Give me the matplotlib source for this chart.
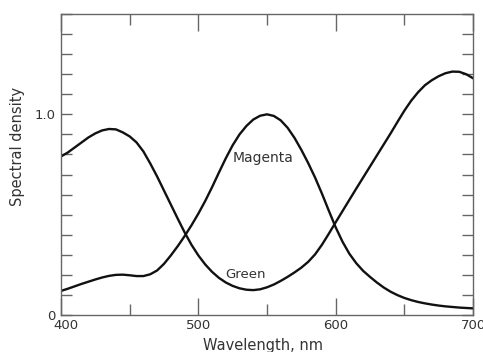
import numpy as np
import matplotlib
matplotlib.use("Agg")
import matplotlib.pyplot as plt
import matplotlib.transforms as mtransforms
from matplotlib.ticker import MultipleLocator, FixedLocator

# Spectral density of the two dyes, sampled every 5 nm
wavelength = np.arange(400, 705, 5)

green = [0.79, 0.81, 0.835, 0.86, 0.885, 0.905, 0.92, 0.927, 0.925, 0.91,
         0.89, 0.86, 0.815, 0.755, 0.69, 0.62, 0.55, 0.48, 0.412, 0.35,
         0.297, 0.252, 0.215, 0.185, 0.162, 0.145, 0.133, 0.126, 0.124, 0.128,
         0.138, 0.152, 0.17, 0.19, 0.212, 0.236, 0.265, 0.302, 0.35, 0.405,
         0.462, 0.518, 0.574, 0.63, 0.685, 0.74, 0.795, 0.85, 0.905, 0.962,
         1.018, 1.068, 1.11, 1.145, 1.17, 1.19, 1.205, 1.213, 1.212, 1.20,
         1.18]

magenta = [0.12, 0.131, 0.143, 0.155, 0.166, 0.177, 0.187, 0.195, 0.2, 0.201,
           0.198, 0.194, 0.194, 0.203, 0.222, 0.255, 0.297, 0.343, 0.393, 0.447,
           0.505, 0.568, 0.637, 0.71, 0.781, 0.846, 0.9, 0.942, 0.974, 0.993,
           1.0, 0.992, 0.97, 0.933, 0.883, 0.823, 0.757, 0.685, 0.605, 0.52,
           0.437, 0.365, 0.305, 0.258, 0.22, 0.19, 0.162, 0.137, 0.116, 0.099,
           0.085, 0.074, 0.065, 0.058, 0.052, 0.047, 0.043, 0.04, 0.037, 0.035,
           0.033]

text_color = "#333333"
spine_color = "#666666"

fig = plt.figure(figsize=(4.83, 3.52), dpi=100)
ax = fig.add_axes([61 / 483, 37 / 352, 412 / 483, 301 / 352])

ax.plot(wavelength, green, color="#111111", lw=1.7, solid_joinstyle="round")
ax.plot(wavelength, magenta, color="#111111", lw=1.7, solid_joinstyle="round")

ax.set_xlim(400, 700)
ax.set_ylim(0, 1.5)

for side in ax.spines.values():
    side.set_color(spine_color)
    side.set_linewidth(1.0)

# x: labels every 100 nm, short ticks at the 50s; ticks on top as well
ax.xaxis.set_major_locator(FixedLocator([400, 500, 600, 700]))
ax.xaxis.set_minor_locator(FixedLocator([450, 550, 650]))
ax.set_xticklabels(["400", "500", "600", "700"])
ax.tick_params(axis="x", which="major", direction="in", length=12, width=1,
               color=spine_color, top=True, pad=3, labelsize=9.5,
               labelcolor=text_color)
ax.tick_params(axis="x", which="minor", direction="in", length=8, width=1,
               color=spine_color, top=True)

# nudge "400" right so it clears the "0" of the y axis
first = ax.get_xticklabels()[0]
first.set_transform(first.get_transform() +
                    mtransforms.ScaledTranslation(5 / 100, 0, fig.dpi_scale_trans))

# y: ticks every 0.1 on both sides, only 0 and 1.0 labelled
ax.yaxis.set_major_locator(FixedLocator([0, 1.0]))
ax.yaxis.set_minor_locator(MultipleLocator(0.1))
ax.set_yticklabels(["0", "1.0"])
ax.tick_params(axis="y", which="major", direction="in", length=8, width=1,
               color=spine_color, right=True, pad=4, labelsize=9.5,
               labelcolor=text_color)
ax.tick_params(axis="y", which="minor", direction="in", length=8, width=1,
               color=spine_color, right=True)

ax.set_xlabel("Wavelength, nm", fontsize=10.5, color=text_color)
ax.xaxis.set_label_coords(0.49, -0.075)
ax.set_ylabel("Spectral density", fontsize=10.5, color=text_color)
ax.yaxis.set_label_coords(-0.088, 0.56)

ax.text(547, 0.78, "Magenta", fontsize=10, color=text_color,
        ha="center", va="center")
ax.text(534, 0.2, "Green", fontsize=9.5, color=text_color,
        ha="center", va="center")

fig.savefig("out.png", dpi=100)
